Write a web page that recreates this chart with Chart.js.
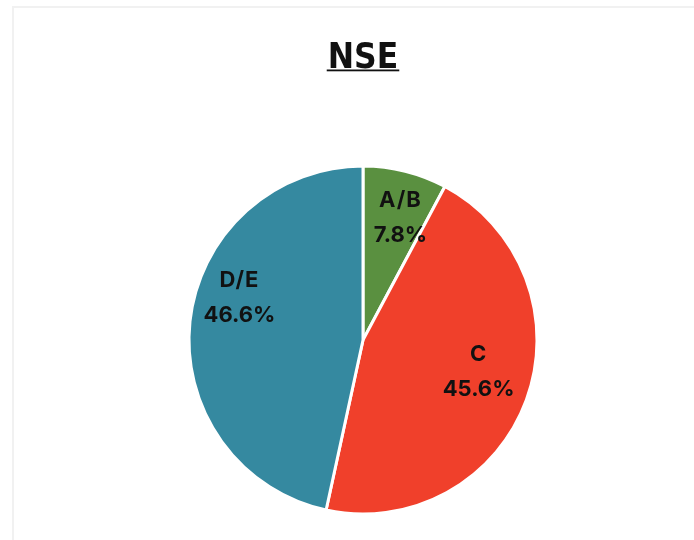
<!DOCTYPE html>
<html lang="en">
<head>
    <meta charset="UTF-8">
    <title>NSE</title>
    <script src="https://cdn.jsdelivr.net/npm/chart.js"></script>
    <style>
        html, body {
            margin: 0;
            padding: 0;
            background: #fff;
            overflow: hidden;
        }
        .card {
            position: absolute;
            left: 12px;
            top: 6px;
            width: 720px;
            height: 600px;
            border: 2px solid #f1f1f1;
        }
        #nseChart {
            position: absolute;
            left: 0;
            top: 0;
        }
    </style>
</head>
<body>
    <div class="card"></div>
    <canvas id="nseChart" width="694" height="540"></canvas>

    <script>
        // Data
        const chartTitle = 'NSE';
        const categories = ['A/B', 'C', 'D/E'];
        const shares = [7.8, 45.6, 46.6];
        const sliceColors = ['#5a9040', '#f0402b', '#3589a0'];

        // Draws the underlined title and the in-slice labels
        const labelPlugin = {
            id: 'nseLabels',
            afterDraw(chart, args, opts) {
                const ctx = chart.ctx;
                const meta = chart.getDatasetMeta(0);
                ctx.save();

                // title
                const cx = (chart.chartArea.left + chart.chartArea.right) / 2;
                ctx.font = 'bold 35px "DejaVu Sans Condensed", "DejaVu Sans", sans-serif';
                ctx.fillStyle = '#111';
                ctx.textAlign = 'center';
                ctx.textBaseline = 'alphabetic';
                ctx.fillText(chartTitle, cx, 67.5);
                const w = ctx.measureText(chartTitle).width;
                ctx.fillRect(cx - w / 2 - 1, 69.5, w + 2, 1.8);

                // slice labels
                ctx.font = 'bold 22px Inter, "Noto Sans", sans-serif';
                ctx.textBaseline = 'middle';
                meta.data.forEach((arc, i) => {
                    const p = arc.getProps(['x', 'y', 'startAngle', 'endAngle', 'outerRadius'], true);
                    const mid = (p.startAngle + p.endAngle) / 2;
                    const r = p.outerRadius * opts.radiusFraction;
                    const off = opts.offsets[i] || [0, 0];
                    const x = p.x + Math.cos(mid) * r + off[0];
                    const y = p.y + Math.sin(mid) * r + off[1];
                    ctx.letterSpacing = '1px';
                    ctx.fillText(categories[i], x, y - opts.lineGap / 2);
                    ctx.letterSpacing = '0px';
                    ctx.fillText(shares[i].toFixed(1) + '%', x, y + opts.lineGap / 2);
                });
                ctx.restore();
            }
        };

        const ctx = document.getElementById('nseChart').getContext('2d');
        new Chart(ctx, {
            type: 'pie',
            data: {
                labels: categories,
                datasets: [{
                    data: shares,
                    backgroundColor: sliceColors,
                    borderColor: '#ffffff',
                    borderWidth: 3,
                    hoverOffset: 0,
                    radius: 174
                }]
            },
            options: {
                responsive: false,
                animation: false,
                events: [],
                layout: {
                    padding: { left: 32, right: 0, top: 140, bottom: 0 }
                },
                plugins: {
                    legend: { display: false },
                    title: { display: false },
                    tooltip: { enabled: false },
                    nseLabels: {
                        radiusFraction: 0.72,
                        lineGap: 35,
                        offsets: [[7, -1], [-2, -11], [1, -29]]
                    }
                }
            },
            plugins: [labelPlugin]
        });
    </script>
</body>
</html>
